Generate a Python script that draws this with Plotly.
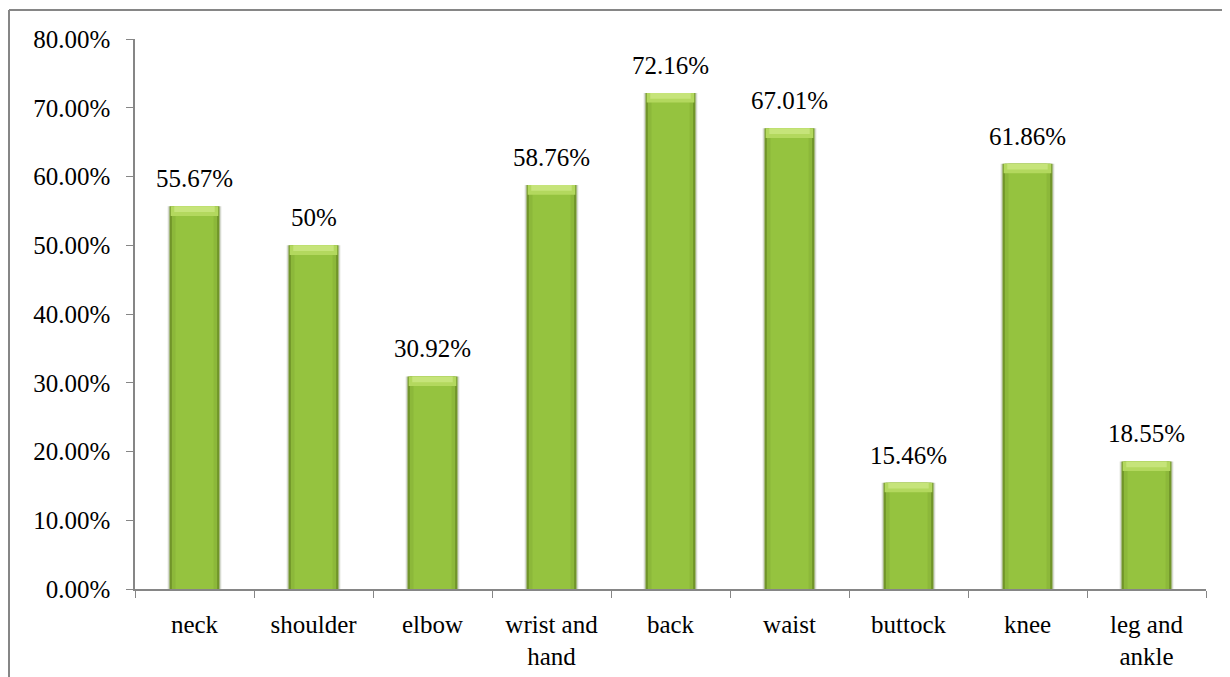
import plotly.graph_objects as go

categories = ["neck", "shoulder", "elbow", "wrist and<br>hand", "back", "waist",
              "buttock", "knee", "leg and<br>ankle"]
values = [55.67, 50, 30.92, 58.76, 72.16, 67.01, 15.46, 61.86, 18.55]
labels = ["55.67%", "50%", "30.92%", "58.76%", "72.16%", "67.01%", "15.46%", "61.86%", "18.55%"]
y_ticks = [0, 10, 20, 30, 40, 50, 60, 70, 80]
y_tick_text = ["0.00%", "10.00%", "20.00%", "30.00%", "40.00%", "50.00%", "60.00%", "70.00%", "80.00%"]

FONT = "'Liberation Serif', 'DejaVu Serif', serif"
W, H = 1230, 677
ML, MR, MT, MB = 127, 32, 31, 96
PW, PH = W - ML - MR, H - MT - MB

fig = go.Figure()
fig.add_trace(go.Bar(x=categories, y=values, width=0.45, marker=dict(color="#d6dad0", line=dict(width=0)),
                     hoverinfo="skip"))
fig.add_trace(go.Bar(x=categories, y=values, width=0.42,
                     marker=dict(color="#71952a", line=dict(width=0)), hoverinfo="skip"))
fig.add_trace(go.Bar(x=categories, y=values, width=0.38, marker=dict(color="#8cb83a", line=dict(width=0)),
                     hoverinfo="skip"))
fig.add_trace(go.Bar(x=categories, y=values, width=0.32, marker=dict(color="#95c33f", line=dict(width=0)),
                     hoverinfo="skip"))
cap = [1.4] * len(values)
fig.add_trace(go.Bar(x=categories, y=cap, base=[v - c for v, c in zip(values, cap)], width=0.40,
                     marker=dict(color="#b3d85e", line=dict(width=0)), hoverinfo="skip"))
fig.add_trace(go.Bar(x=categories, y=[c * 0.6 for c in cap], base=[v - c * 0.6 for v, c in zip(values, cap)],
                     width=0.34, marker=dict(color="#c6e47a", line=dict(width=0)), hoverinfo="skip"))

for c, v, t in zip(categories, values, labels):
    fig.add_annotation(x=c, y=v, text=t, showarrow=False, yanchor="bottom", yshift=12,
                       font=dict(family=FONT, size=25, color="#000000"))

bx = (1 - ML) / PW
by = 1 + (MT - 2) / PH
fig.add_shape(type="line", xref="paper", yref="paper", x0=bx, x1=(W + 10 - ML) / PW, y0=by, y1=by,
              line=dict(color="#868686", width=2))
fig.add_shape(type="line", xref="paper", yref="paper", x0=bx, x1=bx, y0=by, y1=-(MB + 10) / PH,
              line=dict(color="#868686", width=2))

fig.update_layout(
    width=W, height=H,
    margin=dict(l=ML, r=MR, t=MT, b=MB),
    barmode="overlay",
    showlegend=False,
    plot_bgcolor="white", paper_bgcolor="white",
    font=dict(family=FONT, size=25, color="#000000"),
)
fig.update_xaxes(showline=True, linecolor="#868686", linewidth=1.5, ticks="outside", ticklen=7,
                 tickcolor="#868686", tickson="boundaries", showgrid=False, ticklabelstandoff=12,
                 tickfont=dict(family=FONT, size=25))
fig.update_yaxes(range=[0, 80], tickvals=y_ticks, ticktext=y_tick_text, showline=True,
                 linecolor="#868686", linewidth=1.5, ticks="outside", ticklen=7, tickcolor="#868686",
                 showgrid=False, zeroline=False, ticklabelstandoff=11,
                 tickfont=dict(family=FONT, size=25))

fig.write_html("out.html")
